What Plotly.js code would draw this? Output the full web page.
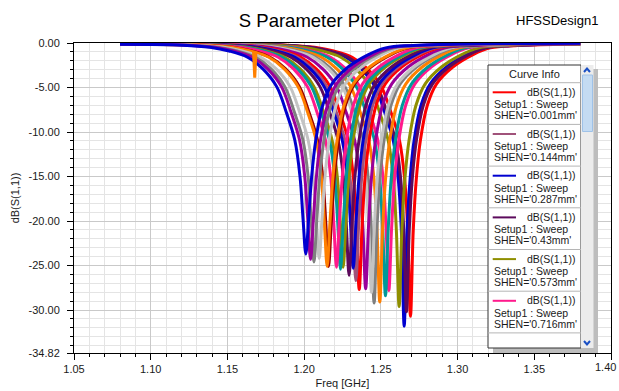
<!DOCTYPE html>
<html>
<head>
<meta charset="utf-8">
<script src="https://cdn.plot.ly/plotly-3.0.1.min.js"></script>
<style>
  html, body { margin: 0; padding: 0; background: #ffffff; }
  #plot { width: 619px; height: 391px; }
</style>
</head>
<body>
<div id="plot"></div>
<script>
// ---- Sweep data: dB(S(1,1)) versus frequency, one trace per SHEN value ----
const sweepStartGHz = 1.08;
const sweepStopGHz = 1.38;

// Sample frequencies relative to each resonance and the flank levels (dB) shared by the traces
const leftOffsetGHz  = [-0.08, -0.0625, -0.05, -0.038, -0.028, -0.019, -0.0125, -0.0072];
const leftFlankDb    = [-0.24, -0.48, -0.90, -1.60, -2.90, -4.90, -7.90, -10.9];
const coreOffsetGHz  = [-0.0038, -0.0018, 0, 0.0018, 0.0038];
const rightOffsetGHz = [0.0065, 0.011, 0.017, 0.0276, 0.0408, 0.052, 0.07, 0.10];
const rightFlankDb   = [-10.9, -7.0, -4.6, -2.7, -1.3, -0.55, -0.28, -0.12];

const traceColor = [
  '#ff0000', '#a0527a', '#0000d0', '#5c0a5c', '#8f8f00', '#ff1a8c',
  '#009999', '#ff8000', '#7f7f7f', '#c3c3c3', '#9a009a', '#ff0000',
  '#a0527a', '#0000d0', '#5c0a5c', '#8f8f00', '#009999', '#ff1a8c',
  '#990000', '#ff8000', '#c3c3c3', '#7f7f7f', '#9a009a', '#0000d0'
];
const dipGHz = [
  1.2693, 1.2662, 1.2652, 1.2667, 1.2619, 1.2552,
  1.2530, 1.2493, 1.2456, 1.2439, 1.2401, 1.2359,
  1.2337, 1.2320, 1.2293, 1.2254, 1.2237, 1.2211,
  1.2159, 1.2150, 1.2098, 1.2064, 1.2042, 1.2011
];
const coreDb = [
  [-15.3, -21.1, -30.7, -21.1, -15.3],
  [-15.2, -21.0, -29.9, -21.0, -15.2],
  [-15.4, -21.2, -31.8, -21.2, -15.4],
  [-15.2, -21.0, -30.2, -21.0, -15.2],
  [-15.2, -21.0, -29.6, -21.0, -15.2],
  [-15.1, -20.8, -27.8, -20.8, -15.1],
  [-15.1, -20.9, -28.4, -20.9, -15.1],
  [-15.2, -21.0, -29.1, -21.0, -15.2],
  [-15.2, -21.0, -29.2, -21.0, -15.2],
  [-15.1, -20.9, -28.0, -20.9, -15.1],
  [-15.1, -20.8, -27.6, -20.8, -15.1],
  [-15.1, -20.8, -27.7, -20.8, -15.1],
  [-15.1, -20.6, -26.7, -20.6, -15.1],
  [-15.0, -20.2, -25.3, -20.2, -15.0],
  [-15.0, -20.5, -26.1, -20.5, -15.0],
  [-15.0, -20.2, -25.2, -20.2, -15.0],
  [-15.0, -20.2, -25.4, -20.2, -15.0],
  [-15.0, -20.2, -25.2, -20.2, -15.0],
  [-15.0, -20.2, -25.1, -20.2, -15.0],
  [-15.0, -20.2, -25.1, -20.2, -15.0],
  [-15.0, -19.9, -24.2, -19.9, -15.0],
  [-15.0, -20.0, -24.6, -20.0, -15.0],
  [-15.0, -19.9, -24.3, -19.9, -15.0],
  [-15.0, -19.8, -23.7, -19.8, -15.0]
];
const edgeDb = [
  [-0.05, -0.10], [-0.05, -0.10], [-0.06, -0.10], [-0.05, -0.10], [-0.06, -0.09], [-0.07, -0.08],
  [-0.07, -0.08], [-0.08, -0.08], [-0.08, -0.07], [-0.09, -0.07], [-0.09, -0.06], [-0.10, -0.06],
  [-0.10, -0.05], [-0.10, -0.05], [-0.11, -0.05], [-0.12, -0.04], [-0.12, -0.04], [-0.12, -0.04],
  [-0.13, -0.04], [-0.13, -0.04], [-0.14, -0.03], [-0.14, -0.03], [-0.15, -0.03], [-0.15, -0.03]
];

// Short numerical glitch on one of the orange traces
const glitchGHz = [1.1670, 1.1678, 1.1686];
const glitchDb  = [-0.95, -3.9, -0.95];

// Axis ticks
const xTickVals = [1.05, 1.10, 1.15, 1.20, 1.25, 1.30, 1.35, 1.40];
const xTickText = ['1.05', '1.10', '1.15', '1.20', '1.25', '1.30', '1.35', '1.40'];
const yTickVals = [0, -5, -10, -15, -20, -25, -30, -34.82];
const yTickText = ['0.00', '-5.00', '-10.00', '-15.00', '-20.00', '-25.00', '-30.00', '-34.82'];

// Curve Info entries
const legendColor = ['#ff0000', '#a0527a', '#0000d0', '#5c0a5c', '#8f8f00', '#ff1a8c'];
const legendShen  = ['0.001mm', '0.144mm', '0.287mm', '0.43mm', '0.573mm', '0.716mm'];

// ---- Traces ----
const traces = dipGHz.map((f0, i) => ({
  type: 'scatter',
  mode: 'lines',
  x: [sweepStartGHz]
      .concat(leftOffsetGHz.map(d => f0 + d))
      .concat(coreOffsetGHz.map(d => f0 + d))
      .concat(rightOffsetGHz.map(d => f0 + d))
      .concat([sweepStopGHz]),
  y: [edgeDb[i][0]].concat(leftFlankDb, coreDb[i], rightFlankDb, [edgeDb[i][1]]),
  line: { color: traceColor[i], width: 3, shape: 'spline', smoothing: 1 },
  hoverinfo: 'skip',
  showlegend: false
}));
traces.push({
  type: 'scatter', mode: 'lines', x: glitchGHz, y: glitchDb,
  line: { color: '#ff8000', width: 3 }, hoverinfo: 'skip', showlegend: false
});

// ---- Layout helpers: pixel position -> paper fraction ----
const M = { l: 74, r: 8, t: 43, b: 38 };
const PW = 619 - M.l - M.r, PH = 391 - M.t - M.b;
const px = x => (x - M.l) / PW;
const py = y => (M.t + PH - y) / PH;

const FONT = 'Arial, "Liberation Sans", sans-serif';
const shapes = [];
const annotations = [];

function rect(x0, y0, x1, y1, fill, line) {
  shapes.push({ type: 'rect', xref: 'paper', yref: 'paper', layer: 'above',
    x0: px(x0), x1: px(x1), y0: py(y0), y1: py(y1), fillcolor: fill,
    line: line ? { color: line, width: 1 } : { width: 0 } });
}
function seg(x0, y0, x1, y1, color, width) {
  shapes.push({ type: 'line', xref: 'paper', yref: 'paper', layer: 'above',
    x0: px(x0), x1: px(x1), y0: py(y0), y1: py(y1), line: { color: color, width: width } });
}
function label(text, x, y, anchor, size, color) {
  annotations.push({ text: text, xref: 'paper', yref: 'paper', x: px(x), y: py(y),
    xanchor: anchor, yanchor: 'middle', showarrow: false,
    font: { family: FONT, size: size || 10.5, color: color || '#1a1a1a' } });
}

// Curve Info panel with its drop shadow and scroll bar
rect(493, 69, 598, 353, '#bdbdbd', null);
rect(488, 65, 581, 348, '#ffffff', '#333333');
rect(581, 65, 593.5, 348, '#ececec', null);
rect(582.5, 75, 592.5, 131.5, '#c4dbf2', '#9fc2e8');
shapes.push({ type: 'path', xref: 'paper', yref: 'paper', layer: 'above',
  path: `M ${px(584)} ${py(72)} L ${px(587)} ${py(68.5)} L ${px(590)} ${py(72)}`,
  line: { color: '#1a4fc4', width: 2 } });
shapes.push({ type: 'path', xref: 'paper', yref: 'paper', layer: 'above',
  path: `M ${px(584)} ${py(341)} L ${px(587)} ${py(344.5)} L ${px(590)} ${py(341)}`,
  line: { color: '#1a4fc4', width: 2 } });

label('Curve Info', 534, 74, 'center', 11);
const rowGap = 41.7;
for (let k = 0; k < 7; k++) seg(488, 82.7 + rowGap * k, 581, 82.7 + rowGap * k, '#b5b5b5', 1);
legendColor.forEach((c, i) => {
  const y0 = 92.3 + rowGap * i;
  seg(492.7, y0, 516, y0, c, 2);
  label('dB(S(1,1))', 577, y0 - 0.5, 'right');
  label('Setup1 : Sweep', 491.5, y0 + 11.8, 'left');
  label("SHEN='" + legendShen[i] + "'", 491.5, y0 + 23, 'left');
});

// Design name in the top right corner
label('HFSSDesign1', 556.5, 21, 'center', 13, '#000000');
// Last x tick label, kept inside the right edge of the page
label('1.40', 618, 366.5, 'right', 11);

const layout = {
  width: 619, height: 391,
  margin: M,
  paper_bgcolor: '#ffffff',
  plot_bgcolor: '#ffffff',
  showlegend: false,
  title: { text: 'S Parameter Plot 1', font: { family: FONT, size: 18.5, color: '#000000' },
           x: 317 / 619, xanchor: 'center', y: 1 - 21 / 391, yanchor: 'middle',
           xref: 'container', yref: 'container' },
  xaxis: {
    range: [1.05, 1.40], tickmode: 'array', tickvals: xTickVals, ticktext: xTickText,
    ticks: 'outside', ticklen: 6, tickcolor: '#000000', tickwidth: 1,
    showline: true, linecolor: '#000000', linewidth: 1, mirror: true,
    showgrid: true, gridcolor: '#c9c9c9', gridwidth: 1, zeroline: false,
    minor: { tick0: 1.05, dtick: 0.01, ticks: 'outside', ticklen: 3, tickcolor: '#000000',
             showgrid: true, gridcolor: '#e4e4e4', gridwidth: 1 },
    tickfont: { family: FONT, size: 11, color: '#1a1a1a' },
    title: { text: 'Freq [GHz]', font: { family: FONT, size: 11, color: '#1a1a1a' }, standoff: 5 },
    fixedrange: true
  },
  yaxis: {
    range: [-34.82, 0], tickmode: 'array', tickvals: yTickVals, ticktext: yTickText,
    ticks: 'outside', ticklen: 6, tickcolor: '#000000', tickwidth: 1,
    showline: true, linecolor: '#000000', linewidth: 1, mirror: true,
    showgrid: true, gridcolor: '#c9c9c9', gridwidth: 1, zeroline: false,
    minor: { tick0: 0, dtick: 1, ticks: 'outside', ticklen: 3, tickcolor: '#000000',
             showgrid: true, gridcolor: '#e4e4e4', gridwidth: 1 },
    tickfont: { family: FONT, size: 11, color: '#1a1a1a' },
    ticklabelstandoff: 5,
    title: { text: 'dB(S(1,1))', font: { family: FONT, size: 11, color: '#1a1a1a' }, standoff: 6 },
    fixedrange: true
  },
  shapes: shapes,
  annotations: annotations
};

Plotly.newPlot('plot', traces, layout, { staticPlot: true, displayModeBar: false });
</script>
</body>
</html>
